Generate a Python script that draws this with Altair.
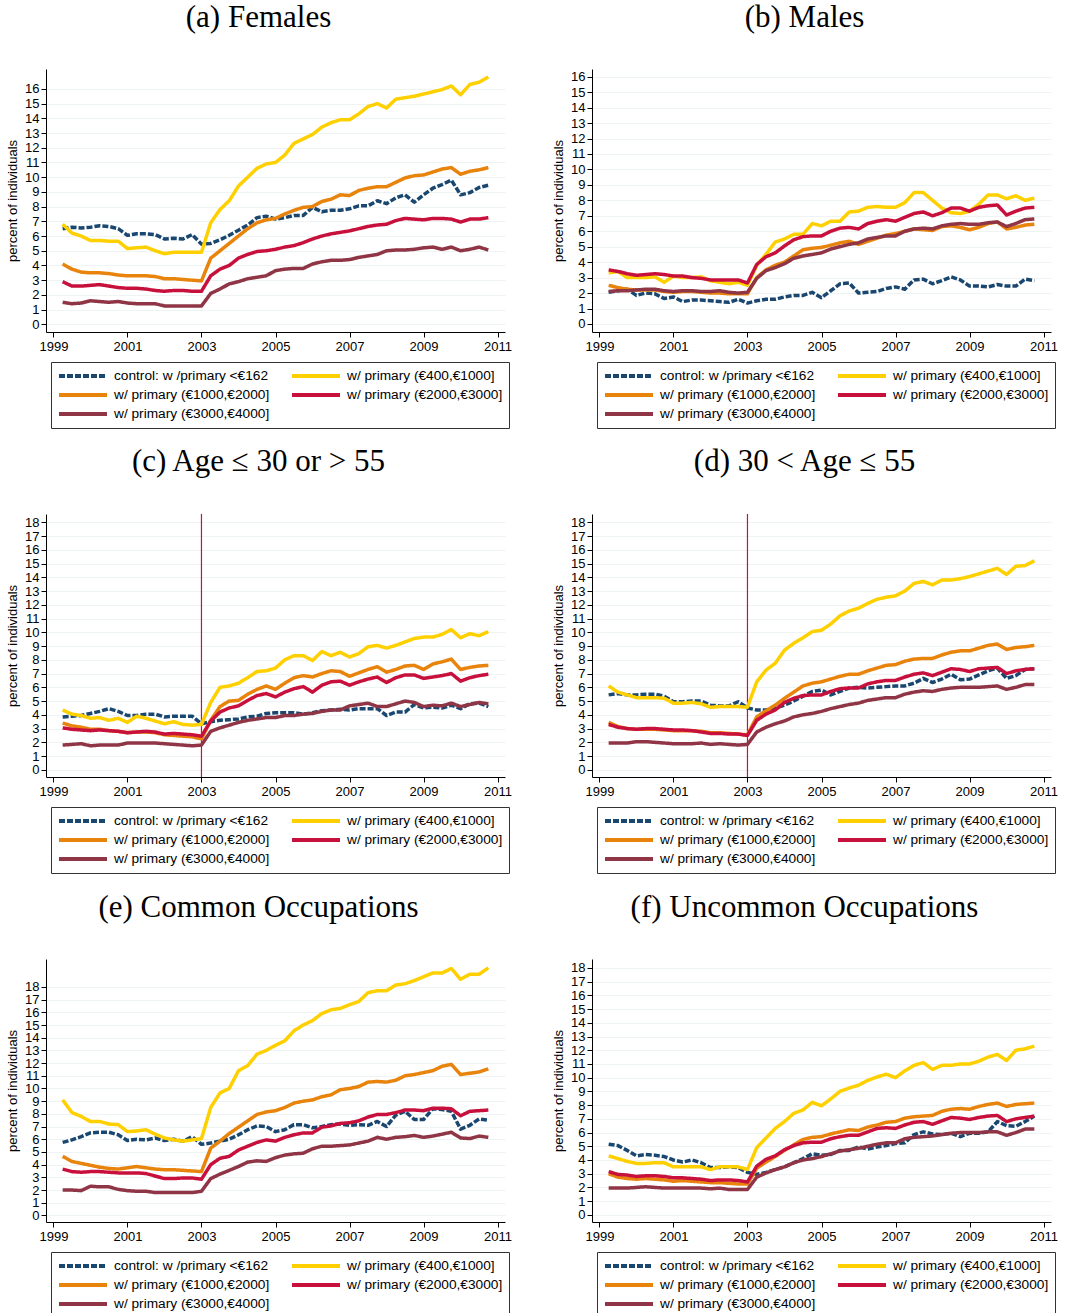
import altair as alt
import pandas as pd

# Quarterly observations: 1999q2 ... 2010q4
QUARTERS = [1999 + q / 4 for q in range(1, 48)]

SERIES = [
    "control: w /primary <€162",
    "w/ primary (€400,€1000]",
    "w/ primary (€1000,€2000]",
    "w/ primary (€2000,€3000]",
    "w/ primary (€3000,€4000]",
]
COLORS = ["#1a476f", "#ffd000", "#e8830c", "#c8103c", "#8f3545"]
DASHES = [[6, 2], [1, 0], [1, 0], [1, 0], [1, 0]]
# legend columns fill top-to-bottom, so list entries column by column
LEGEND_ORDER = [0, 2, 4, 1, 3]

# (a) Females
A_CONTROL = [6.5, 6.6, 6.55,
             6.6, 6.7, 6.65, 6.5, 6.05, 6.15, 6.15, 6.1, 5.8, 5.85, 5.8, 6.1,
             5.45, 5.5, 5.75, 6.05, 6.4, 6.75, 7.25, 7.35, 7.15, 7.25, 7.4, 7.4,
             7.95, 7.65, 7.75, 7.75, 7.85, 8.05, 8.05, 8.4, 8.2, 8.6, 8.8, 8.3,
             8.8, 9.25, 9.5, 9.8, 8.8, 8.95, 9.3, 9.45]
A_400 = [6.8, 6.2, 6.0,
         5.7, 5.7, 5.65, 5.65, 5.15, 5.2, 5.25, 5.0, 4.8, 4.9, 4.9, 4.9,
         4.9, 6.9, 7.8, 8.4, 9.4, 10.0, 10.6, 10.9, 11.0, 11.5, 12.3, 12.6,
         12.9, 13.4, 13.7, 13.9, 13.9, 14.3, 14.8, 15.0, 14.7, 15.3, 15.4, 15.5,
         15.65, 15.8, 15.95, 16.2, 15.6, 16.3, 16.45, 16.8]
A_1000 = [4.1, 3.75, 3.55,
          3.5, 3.5, 3.45, 3.35, 3.3, 3.3, 3.3, 3.25, 3.1, 3.1, 3.05, 3.0,
          2.95, 4.5, 5.0, 5.5, 6.0, 6.5, 6.9, 7.1, 7.2, 7.5, 7.75, 7.95,
          8.0, 8.35, 8.5, 8.8, 8.75, 9.1, 9.25, 9.35, 9.35, 9.65, 9.95, 10.1,
          10.15, 10.35, 10.55, 10.65, 10.2, 10.4, 10.5, 10.65]
A_2000 = [2.9, 2.6, 2.6,
          2.65, 2.7, 2.6, 2.5, 2.45, 2.45, 2.4, 2.3, 2.25, 2.3, 2.3, 2.25,
          2.25, 3.3, 3.75, 4.0, 4.5, 4.75, 4.95, 5.0, 5.1, 5.25, 5.35, 5.55,
          5.8, 6.0, 6.15, 6.25, 6.35, 6.5, 6.65, 6.75, 6.8, 7.05, 7.2, 7.15,
          7.1, 7.2, 7.2, 7.15, 6.95, 7.15, 7.15, 7.25]
A_3000 = [1.5, 1.4, 1.45,
          1.6, 1.55, 1.5, 1.55, 1.45, 1.4, 1.4, 1.4, 1.25, 1.25, 1.25, 1.25,
          1.25, 2.1, 2.4, 2.75, 2.9, 3.1, 3.2, 3.3, 3.65, 3.75, 3.8, 3.8,
          4.1, 4.25, 4.35, 4.35, 4.4, 4.55, 4.65, 4.75, 5.0, 5.05, 5.05, 5.1,
          5.2, 5.25, 5.1, 5.25, 5.0, 5.1, 5.25, 5.05]

# (b) Males
B_CONTROL = [2.05, 2.15, 2.25,
             1.85, 2.0, 1.95, 1.65, 1.75, 1.45, 1.55, 1.55, 1.5, 1.45, 1.4, 1.6,
             1.35, 1.5, 1.6, 1.6, 1.75, 1.85, 1.85, 2.05, 1.7, 2.15, 2.6, 2.65,
             2.0, 2.05, 2.1, 2.3, 2.4, 2.25, 2.85, 2.9, 2.6, 2.8, 3.05, 2.85,
             2.45, 2.45, 2.4, 2.55, 2.45, 2.45, 2.9, 2.8]
B_400 = [3.3, 3.4, 3.0,
         3.0, 3.0, 3.05, 2.7, 3.1, 3.0, 3.0, 3.05, 2.8, 2.7, 2.6, 2.7,
         2.5, 3.8, 4.5, 5.3, 5.5, 5.8, 5.8, 6.5, 6.35, 6.65, 6.65, 7.25,
         7.3, 7.55, 7.6, 7.55, 7.55, 7.85, 8.5, 8.5, 8.0, 7.5, 7.2, 7.15,
         7.3, 7.75, 8.35, 8.35, 8.1, 8.3, 8.0, 8.15]
B_1000 = [2.5, 2.35, 2.25,
          2.2, 2.2, 2.2, 2.1, 2.05, 2.1, 2.1, 2.05, 2.0, 2.0, 1.95, 1.95,
          1.95, 3.0, 3.5, 3.8, 4.0, 4.4, 4.8, 4.9, 4.95, 5.1, 5.25, 5.35,
          5.15, 5.35, 5.55, 5.75, 5.85, 6.0, 6.15, 6.1, 6.05, 6.3, 6.35, 6.25,
          6.1, 6.25, 6.5, 6.6, 6.15, 6.25, 6.4, 6.45]
B_2000 = [3.5, 3.4, 3.25,
          3.15, 3.2, 3.25, 3.2, 3.1, 3.1, 3.0, 2.95, 2.85, 2.85, 2.85, 2.85,
          2.65, 3.85, 4.35, 4.6, 5.05, 5.45, 5.65, 5.7, 5.7, 6.0, 6.2, 6.25,
          6.15, 6.5, 6.65, 6.75, 6.65, 6.9, 7.15, 7.25, 7.0, 7.2, 7.5, 7.5,
          7.3, 7.55, 7.65, 7.7, 7.05, 7.3, 7.5, 7.55]
B_3000 = [2.1, 2.15, 2.15,
          2.2, 2.25, 2.25, 2.15, 2.1, 2.15, 2.15, 2.1, 2.1, 2.15, 2.05, 2.0,
          2.05, 2.95, 3.45, 3.65, 3.9, 4.25, 4.4, 4.5, 4.6, 4.85, 5.0, 5.15,
          5.25, 5.5, 5.6, 5.7, 5.7, 6.0, 6.15, 6.2, 6.15, 6.35, 6.45, 6.5,
          6.45, 6.45, 6.55, 6.6, 6.3, 6.5, 6.75, 6.8]

# (c) Age <= 30 or > 55
C_CONTROL = [3.85, 3.9, 3.95,
             4.1, 4.25, 4.45, 4.25, 3.95, 3.95, 4.05, 4.05, 3.85, 3.9, 3.9, 3.9,
             3.35, 3.5, 3.6, 3.65, 3.7, 3.85, 3.9, 4.1, 4.15, 4.15, 4.15, 4.05,
             4.15, 4.3, 4.35, 4.4, 4.35, 4.45, 4.45, 4.45, 3.95, 4.2, 4.2, 4.75,
             4.5, 4.55, 4.5, 4.7, 4.45, 4.8, 4.85, 4.6]
C_400 = [4.35, 4.05, 3.95,
         3.75, 3.8, 3.6, 3.75, 3.45, 3.9, 3.75, 3.55, 3.35, 3.5, 3.3, 3.25,
         3.3, 4.9, 6.0, 6.1, 6.3, 6.7, 7.15, 7.2, 7.4, 8.0, 8.3, 8.3,
         7.95, 8.6, 8.3, 8.55, 8.2, 8.45, 8.95, 9.05, 8.85, 9.05, 9.3, 9.55,
         9.65, 9.65, 9.85, 10.2, 9.6, 9.9, 9.75, 10.05]
C_1000 = [3.4, 3.2, 3.1,
          2.95, 2.95, 2.85, 2.8, 2.7, 2.75, 2.75, 2.7, 2.55, 2.5, 2.45, 2.4,
          2.25, 3.6, 4.6, 5.0, 5.05, 5.5, 5.85, 6.1, 5.85, 6.3, 6.7, 6.85,
          6.75, 7.0, 7.2, 7.15, 6.8, 7.05, 7.3, 7.5, 7.1, 7.3, 7.55, 7.6,
          7.3, 7.7, 7.85, 8.05, 7.3, 7.45, 7.55, 7.6]
C_2000 = [3.05, 2.95, 2.9,
          2.85, 2.9, 2.85, 2.8, 2.7, 2.75, 2.8, 2.75, 2.6, 2.65, 2.6, 2.55,
          2.45, 3.55, 4.2, 4.5, 4.65, 5.05, 5.4, 5.55, 5.3, 5.65, 5.9, 6.05,
          5.65, 6.15, 6.4, 6.45, 6.15, 6.4, 6.6, 6.75, 6.35, 6.7, 6.9, 6.9,
          6.65, 6.75, 6.85, 7.0, 6.45, 6.7, 6.85, 6.95]
C_3000 = [1.8, 1.85, 1.9,
          1.75, 1.8, 1.8, 1.8, 1.95, 1.95, 1.95, 1.95, 1.9, 1.85, 1.8, 1.75,
          1.8, 2.8, 3.05, 3.25, 3.45, 3.6, 3.7, 3.8, 3.8, 3.95, 3.95, 4.05,
          4.1, 4.25, 4.35, 4.35, 4.65, 4.75, 4.85, 4.6, 4.6, 4.8, 5.0, 4.9,
          4.6, 4.7, 4.65, 4.85, 4.6, 4.75, 4.9, 4.8]

# (d) 30 < Age <= 55
D_CONTROL = [5.45, 5.55, 5.45,
             5.45, 5.5, 5.5, 5.35, 4.95, 4.95, 5.0, 5.0, 4.7, 4.65, 4.65, 4.95,
             4.5, 4.35, 4.35, 4.5, 4.7, 5.0, 5.35, 5.7, 5.8, 5.45, 5.7, 5.95,
             6.0, 5.95, 6.0, 6.05, 6.1, 6.1, 6.3, 6.65, 6.35, 6.6, 6.95, 6.55,
             6.6, 6.9, 7.2, 7.4, 6.65, 6.85, 7.3, 7.35]
D_400 = [6.1, 5.65, 5.45,
         5.25, 5.25, 5.25, 5.2, 4.85, 4.85, 4.9, 4.8, 4.55, 4.6, 4.6, 4.6,
         4.55, 6.4, 7.25, 7.75, 8.7, 9.2, 9.6, 10.05, 10.15, 10.6, 11.2, 11.55,
         11.75, 12.1, 12.4, 12.55, 12.65, 13.0, 13.55, 13.7, 13.45, 13.8, 13.8, 13.9,
         14.05, 14.25, 14.45, 14.65, 14.2, 14.8, 14.85, 15.2]
D_1000 = [3.45, 3.15, 3.0,
          2.95, 2.95, 2.95, 2.9, 2.85, 2.85, 2.85, 2.8, 2.7, 2.7, 2.65, 2.6,
          2.55, 3.85, 4.3, 4.7, 5.2, 5.65, 6.1, 6.3, 6.4, 6.6, 6.8, 6.95,
          6.95, 7.2, 7.4, 7.6, 7.65, 7.9, 8.05, 8.1, 8.1, 8.35, 8.55, 8.65,
          8.65, 8.85, 9.05, 9.15, 8.75, 8.9, 8.95, 9.05]
D_2000 = [3.3, 3.1, 3.0,
          2.95, 3.0, 3.0, 2.95, 2.9, 2.9, 2.85, 2.75, 2.65, 2.65, 2.6, 2.6,
          2.5, 3.6, 4.05, 4.35, 4.9, 5.2, 5.4, 5.45, 5.45, 5.7, 5.9, 5.95,
          5.95, 6.25, 6.4, 6.5, 6.5, 6.75, 6.95, 7.05, 6.85, 7.1, 7.35, 7.3,
          7.15, 7.35, 7.4, 7.45, 7.0, 7.2, 7.3, 7.35]
D_3000 = [1.95, 1.95, 1.95,
          2.05, 2.05, 2.0, 1.95, 1.9, 1.9, 1.9, 1.95, 1.85, 1.9, 1.85, 1.8,
          1.85, 2.75, 3.1, 3.35, 3.55, 3.85, 4.0, 4.1, 4.25, 4.45, 4.6, 4.75,
          4.85, 5.05, 5.15, 5.25, 5.25, 5.5, 5.65, 5.75, 5.7, 5.85, 5.95, 6.0,
          6.0, 6.0, 6.05, 6.1, 5.85, 6.0, 6.2, 6.2]

# (e) Common Occupations
E_CONTROL = [5.75, 5.95, 6.2,
             6.5, 6.55, 6.55, 6.35, 5.9, 6.0, 5.95, 6.1, 5.9, 6.0, 5.85, 6.2,
             5.6, 5.7, 5.85, 6.0, 6.35, 6.75, 7.05, 7.0, 6.6, 6.75, 7.15, 7.15,
             6.9, 7.0, 7.15, 7.2, 7.1, 7.15, 7.1, 7.4, 7.0, 7.9, 8.2, 7.55,
             7.55, 8.4, 8.35, 8.2, 6.8, 7.1, 7.6, 7.5]
E_400 = [9.1, 8.1, 7.8,
         7.4, 7.4, 7.2, 7.15, 6.6, 6.65, 6.75, 6.4, 6.1, 5.95, 5.85, 5.95,
         6.05, 8.5, 9.65, 10.0, 11.4, 11.8, 12.7, 13.0, 13.4, 13.75, 14.55, 15.0,
         15.35, 15.9, 16.2, 16.3, 16.6, 16.85, 17.55, 17.7, 17.7, 18.15, 18.25, 18.5,
         18.8, 19.1, 19.1, 19.45, 18.6, 19.0, 19.0, 19.5]
E_1000 = [4.65, 4.25, 4.1,
          3.95, 3.8, 3.7, 3.65, 3.75, 3.85, 3.75, 3.65, 3.6, 3.6, 3.55, 3.5,
          3.45, 5.3, 5.85, 6.45, 6.95, 7.45, 7.95, 8.15, 8.25, 8.5, 8.85, 9.0,
          9.1, 9.35, 9.5, 9.9, 10.0, 10.15, 10.5, 10.55, 10.5, 10.65, 11.0, 11.1,
          11.25, 11.4, 11.75, 11.9, 11.1, 11.2, 11.3, 11.55]
E_2000 = [3.65, 3.45, 3.4,
          3.45, 3.45, 3.4, 3.35, 3.35, 3.35, 3.3, 3.1, 2.9, 2.9, 2.95, 2.95,
          2.85, 4.0, 4.5, 4.65, 5.15, 5.45, 5.75, 5.95, 5.85, 6.15, 6.35, 6.5,
          6.5, 6.95, 7.05, 7.25, 7.3, 7.45, 7.75, 7.95, 7.95, 8.1, 8.3, 8.3,
          8.25, 8.45, 8.45, 8.4, 7.85, 8.2, 8.25, 8.3]
E_3000 = [2.0, 2.0, 1.95,
          2.3, 2.25, 2.25, 2.05, 1.95, 1.9, 1.9, 1.8, 1.8, 1.8, 1.8, 1.8,
          1.9, 2.9, 3.25, 3.55, 3.85, 4.2, 4.3, 4.25, 4.55, 4.75, 4.85, 4.9,
          5.25, 5.45, 5.45, 5.5, 5.55, 5.7, 5.85, 6.15, 6.0, 6.15, 6.2, 6.3,
          6.15, 6.25, 6.4, 6.55, 6.1, 6.05, 6.25, 6.15]

# (f) Uncommon Occupations
F_CONTROL = [5.15, 5.05, 4.7,
             4.3, 4.4, 4.35, 4.25, 4.0, 3.85, 4.0, 3.8, 3.45, 3.45, 3.5, 3.45,
             3.1, 2.95, 3.1, 3.3, 3.5, 3.8, 4.1, 4.45, 4.35, 4.4, 4.7, 4.7,
             4.95, 4.8, 4.95, 5.05, 5.2, 5.25, 5.85, 6.05, 5.9, 5.85, 5.95, 5.7,
             5.95, 5.95, 6.05, 6.8, 6.5, 6.45, 6.8, 7.2]
F_400 = [4.3, 4.1, 3.9,
         3.75, 3.75, 3.8, 3.8, 3.5, 3.5, 3.5, 3.5, 3.3, 3.5, 3.5, 3.5,
         3.3, 4.9, 5.6, 6.3, 6.8, 7.4, 7.65, 8.2, 7.95, 8.45, 9.0, 9.25,
         9.45, 9.8, 10.05, 10.25, 10.0, 10.5, 10.9, 11.1, 10.6, 10.9, 10.9, 11.0,
         11.0, 11.2, 11.5, 11.7, 11.25, 12.0, 12.1, 12.3]
F_1000 = [3.0, 2.75, 2.65,
          2.6, 2.65, 2.6, 2.55, 2.45, 2.5, 2.45, 2.4, 2.35, 2.35, 2.3, 2.25,
          2.25, 3.4, 3.85, 4.25, 4.7, 5.1, 5.5, 5.65, 5.7, 5.9, 6.05, 6.2,
          6.15, 6.4, 6.55, 6.75, 6.8, 7.05, 7.15, 7.2, 7.25, 7.55, 7.7, 7.75,
          7.7, 7.9, 8.05, 8.15, 7.9, 8.05, 8.1, 8.15]
F_2000 = [3.15, 2.95, 2.9,
          2.8, 2.85, 2.85, 2.8, 2.7, 2.7, 2.65, 2.6, 2.5, 2.55, 2.55, 2.5,
          2.4, 3.55, 4.05, 4.3, 4.75, 5.05, 5.25, 5.3, 5.3, 5.55, 5.7, 5.8,
          5.8, 6.05, 6.3, 6.35, 6.3, 6.55, 6.75, 6.8, 6.6, 6.85, 7.1, 7.05,
          6.95, 7.1, 7.2, 7.25, 6.8, 7.0, 7.1, 7.2]
F_3000 = [1.95, 1.95, 1.95,
          2.0, 2.05, 2.0, 1.95, 1.95, 1.95, 1.95, 1.95, 1.9, 1.95, 1.85, 1.85,
          1.85, 2.75, 3.05, 3.3, 3.5, 3.8, 4.0, 4.1, 4.25, 4.45, 4.65, 4.75,
          4.85, 5.0, 5.15, 5.25, 5.25, 5.55, 5.65, 5.7, 5.75, 5.85, 5.95, 6.0,
          6.0, 6.0, 6.05, 6.05, 5.8, 6.0, 6.25, 6.25]

PANELS = [
    ("(a) Females", [A_CONTROL, A_400, A_1000, A_2000, A_3000], 17.35, 16, False),
    ("(b) Males", [B_CONTROL, B_400, B_1000, B_2000, B_3000], 16.5, 16, False),
    ("(c) Age ≤ 30 or > 55", [C_CONTROL, C_400, C_1000, C_2000, C_3000], 18.6, 18, True),
    ("(d) 30 < Age ≤ 55", [D_CONTROL, D_400, D_1000, D_2000, D_3000], 18.6, 18, True),
    ("(e) Common Occupations", [E_CONTROL, E_400, E_1000, E_2000, E_3000], 20.2, 18, False),
    ("(f) Uncommon Occupations", [F_CONTROL, F_400, F_1000, F_2000, F_3000], 18.65, 18, False),
]

PLOT_W, PLOT_H = 459, 263
SANS = "Liberation Sans"
SERIF = "Liberation Serif"
RULE_RED = "#c8103c"

LEG_DOMAIN = [SERIES[i] for i in LEGEND_ORDER]
LEG_COLORS = [COLORS[i] for i in LEGEND_ORDER]
LEG_DASHES = [DASHES[i] for i in LEGEND_ORDER]


def legend():
    return alt.Legend(
        title=None, orient="none", legendX=5, legendY=PLOT_H + 30,
        columns=2, columnPadding=20, rowPadding=3, clipHeight=16,
        symbolType="stroke", symbolSize=2304, symbolStrokeWidth=4,
        labelFont=SANS, labelFontSize=13.7, labelColor="black", labelLimit=400,
        labelOffset=5, padding=6, strokeColor="#333333", fillColor="white",
    )


def panel(title, series, ymax, ytop, with_rule):
    rows = []
    for name, values in zip(SERIES, series):
        assert len(values) == len(QUARTERS)
        for t, v in zip(QUARTERS, values):
            rows.append({"t": t, "v": v, "s": name})
    df = pd.DataFrame(rows)

    x = alt.X("t:Q", title=None,
              scale=alt.Scale(domain=[1998.8, 2011.2], nice=False, zero=False),
              axis=alt.Axis(values=list(range(1999, 2012, 2)), format="d", grid=False,
                            tickSize=5, labelPadding=3, labelOverlap=False))
    lines = alt.Chart(df).mark_line(strokeWidth=3.5, strokeJoin="round").encode(
        x=x,
        y=alt.Y("v:Q", title="percent of individuals",
                scale=alt.Scale(domain=[-0.52, ymax], nice=False, zero=False),
                axis=alt.Axis(values=list(range(0, ytop + 1)), grid=True,
                              tickSize=5, labelPadding=2, titlePadding=5,
                              labelOverlap=False)),
        color=alt.Color("s:N", scale=alt.Scale(domain=LEG_DOMAIN, range=LEG_COLORS),
                        legend=legend()),
        strokeDash=alt.StrokeDash("s:N", scale=alt.Scale(domain=LEG_DOMAIN, range=LEG_DASHES),
                                  legend=legend()),
    )

    layers = []
    if with_rule:
        rule = alt.Chart(pd.DataFrame({"t": [2003]})).mark_rule(
            color=RULE_RED, stroke=RULE_RED, strokeWidth=1.2, opacity=1).encode(x=x)
        layers.append(rule)
    layers.append(lines)

    return alt.layer(*layers).properties(
        width=PLOT_W, height=PLOT_H,
        title=alt.TitleParams(title, font=SERIF, fontSize=31, fontWeight="normal",
                              color="black", anchor="middle", frame="group",
                              dx=-17, offset=35),
    )


charts = [panel(*p) for p in PANELS]
chart = (
    alt.concat(*charts, columns=2, spacing={"row": 182, "column": 87}, bounds="flush")
    .resolve_scale(x="independent", y="independent", color="independent",
                   strokeDash="independent")
    .resolve_legend(color="independent", strokeDash="independent")
    .properties(padding={"left": 6, "top": 2, "right": 0, "bottom": 0})
    .configure(background="white")
    .configure_view(stroke=None)
    .configure_axis(labelFont=SANS, labelFontSize=13, labelColor="black",
                    titleFont=SANS, titleFontSize=13, titleFontWeight="normal",
                    titleColor="black", domainColor="black", tickColor="black",
                    gridColor="#eef3f4", gridWidth=1)
)

chart.save("out.html", embed_options={"renderer": "svg", "actions": False})
